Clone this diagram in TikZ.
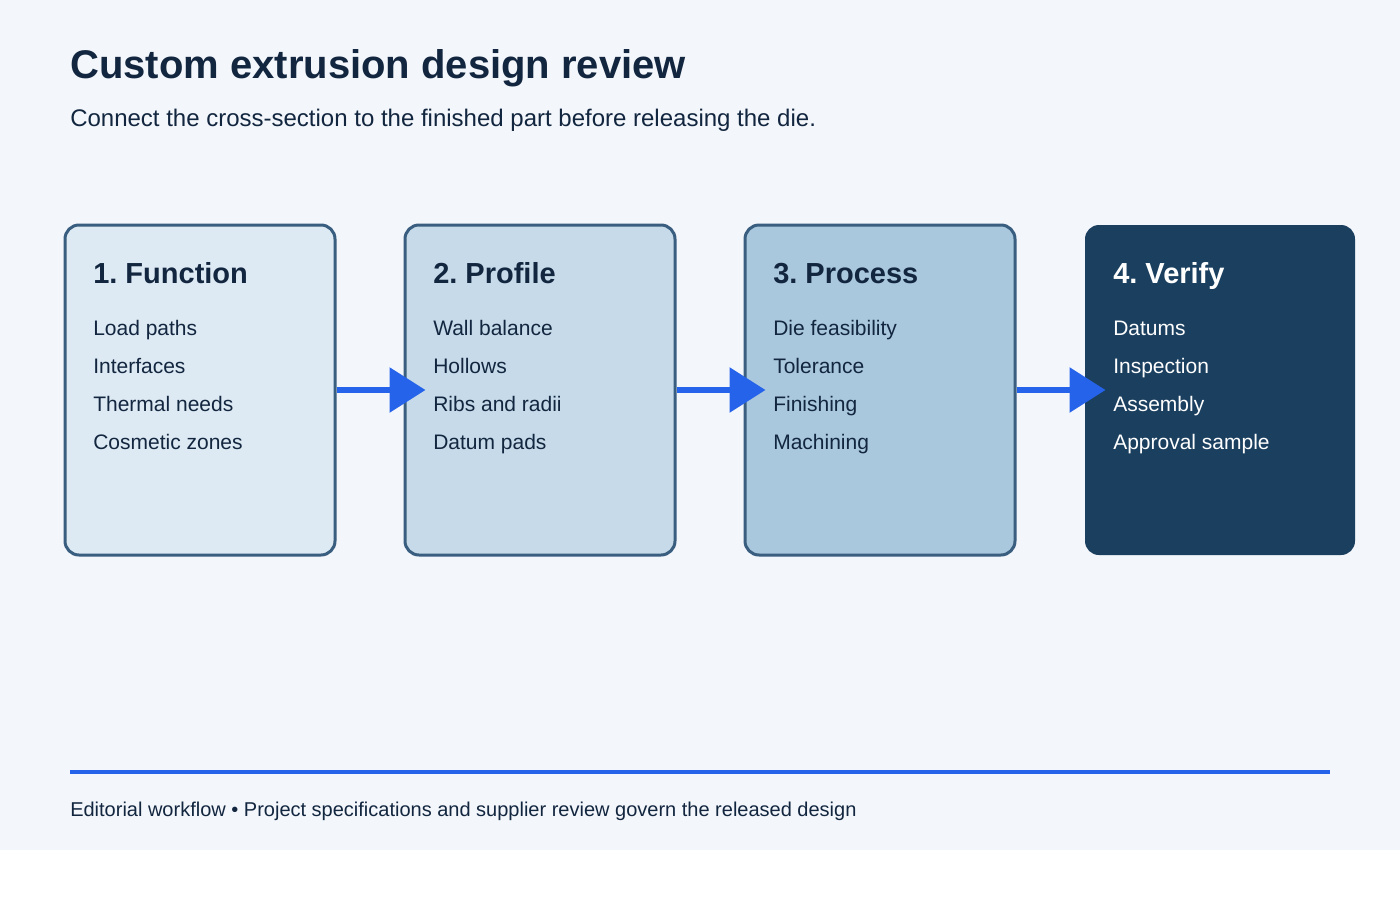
\documentclass[tikz,border=0pt]{standalone}
\usepackage{fontspec}
\setmainfont{Liberation Sans}
\usetikzlibrary{arrows.meta,positioning}
\frenchspacing

\definecolor{pagebg}{HTML}{F3F6FB}
\definecolor{inkdark}{HTML}{12263F}
\definecolor{edgeblue}{HTML}{3A5E7F}
\definecolor{flowblue}{HTML}{2563EB}
\definecolor{stageone}{HTML}{DDE9F3}
\definecolor{stagetwo}{HTML}{C6DAE9}
\definecolor{stagethree}{HTML}{A9C7DD}
\definecolor{stagefour}{HTML}{1B3F5F}

\tikzset{
  stage/.style={draw=edgeblue, line width=2.25pt, rounded corners=10.5pt,
    minimum width=202.5pt, minimum height=247.5pt, inner sep=0pt},
  stagehead/.style={anchor=base west, inner sep=0pt, text=inkdark,
    font=\fontsize{21.75}{26}\selectfont\bfseries},
  stageitem/.style={anchor=base west, inner sep=0pt, text=inkdark,
    font=\fontsize{15.75}{19}\selectfont},
  flow/.style={flowblue, line width=4.5pt,
    -{Triangle[length=27pt,width=33pt]}, shorten >=-16.5pt},
}

\begin{document}
\begin{tikzpicture}[x=0.75pt,y=-0.75pt]
        \useasboundingbox (0,0) rectangle (1400,900);
        \fill[pagebg] (0,0) rectangle (1400,850);

        \node[anchor=base west, inner sep=0pt, text=inkdark, font=\fontsize{30}{36}\selectfont\bfseries] (title) at (70,78) {Custom extrusion design review};
        \node[anchor=base west, inner sep=0pt, text=inkdark, font=\fontsize{18}{22}\selectfont] (subtitle) at (70,126) {Connect the cross-section to the finished part before releasing the die.};

        \node[stage, fill=stageone] (function) at (200,390) {};
        \node[stage, fill=stagetwo] (profile) at (540,390) {};
        \node[stage, fill=stagethree] (process) at (880,390) {};
        \node[stage, fill=stagefour, draw=none] (verify) at (1220,390) {};

        \node[stagehead] (functionhead) at (93,283) {1. Function};
        \node[stageitem] at (93,335) {Load paths};
        \node[stageitem] at (93,373) {Interfaces};
        \node[stageitem] at (93,411) {Thermal needs};
        \node[stageitem] at (93,449) {Cosmetic zones};

        \node[stagehead] (profilehead) at (433,283) {2. Profile};
        \node[stageitem] at (433,335) {Wall balance};
        \node[stageitem] at (433,373) {Hollows};
        \node[stageitem] at (433,411) {Ribs and radii};
        \node[stageitem] at (433,449) {Datum pads};

        \node[stagehead] (processhead) at (773,283) {3. Process};
        \node[stageitem] at (773,335) {Die feasibility};
        \node[stageitem] at (773,373) {Tolerance};
        \node[stageitem] at (773,411) {Finishing};
        \node[stageitem] at (773,449) {Machining};

        \node[stagehead, text=white] (verifyhead) at (1113,283) {4. Verify};
        \node[stageitem, text=white] at (1113,335) {Datums};
        \node[stageitem, text=white] at (1113,373) {Inspection};
        \node[stageitem, text=white] at (1113,411) {Assembly};
        \node[stageitem, text=white] at (1113,449) {Approval sample};

        \draw[flow] (function.east) -- (profile.west);
        \draw[flow] (profile.east) -- (process.west);
        \draw[flow] (process.east) -- (verify.west);

        \coordinate (ruleleft) at (70,772);
        \coordinate (ruleright) at (1330,772);
        \draw[flowblue, line width=3pt] (ruleleft) -- (ruleright);
        \node[anchor=base west, inner sep=0pt, text=inkdark, font=\fontsize{15}{18}\selectfont] (footer) at (70,816) {Editorial workflow • Project specifications and supplier review govern the released design};

\end{tikzpicture}
\end{document}
